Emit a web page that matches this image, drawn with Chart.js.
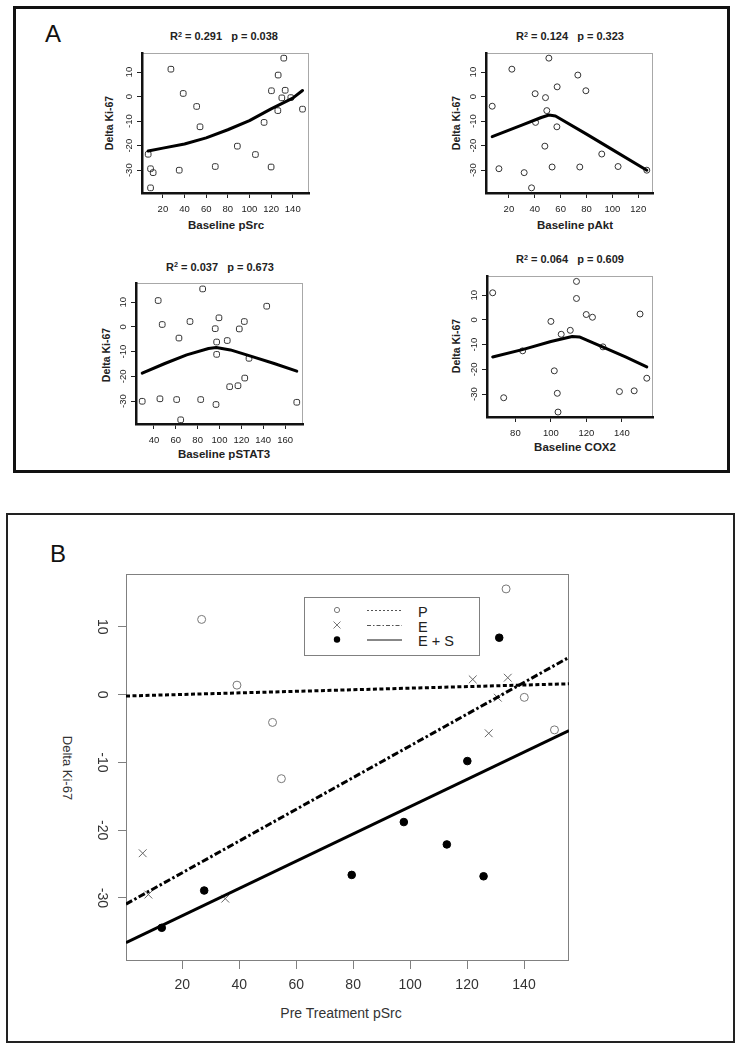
<!DOCTYPE html>
<html><head><meta charset="utf-8">
<title>Delta Ki-67 versus baseline markers</title>
<script src="https://cdn.jsdelivr.net/npm/chart.js@4.4.1/dist/chart.umd.min.js"></script>
<style>
html,body{margin:0;padding:0;background:#fff;}
body{position:relative;width:740px;height:1050px;overflow:hidden;font-family:"Liberation Sans",Arial,sans-serif;color:#222;}
canvas{position:absolute;}
.frame{position:absolute;box-sizing:border-box;}
.txt{position:absolute;white-space:nowrap;line-height:1;transform:translate(-50%,-50%);}
.panel{font-size:24px;color:#111;}
.ttl{font-size:11px;font-weight:bold;}
.ttl sup{font-size:0.65em;position:relative;top:-0.45em;vertical-align:baseline;line-height:0;}
.xl{font-size:11.5px;font-weight:bold;}
.yl{font-size:10.5px;font-weight:bold;transform:translate(-50%,-50%) rotate(-90deg);}
.bx{font-size:14px;color:#333;}
.by{font-size:13px;color:#333;transform:translate(-50%,-50%) rotate(90deg);}
.lg{position:absolute;white-space:nowrap;line-height:1;transform:translate(0,-50%);font-size:14.5px;color:#222;}
</style></head><body>
<div class="frame" style="left:13px;top:6px;width:717px;height:467px;border:3px solid #111;"></div>
<div class="frame" style="left:6px;top:513px;width:729px;height:530px;border:2px solid #222;"></div>

<div class="txt panel" style="left:53px;top:33.5px;">A</div>
<div class="txt panel" style="left:58px;top:554px;">B</div>

<div class="txt ttl" style="left:224px;top:36px;">R<sup>2</sup> = 0.291&nbsp;&nbsp;&nbsp;p = 0.038</div>
<div class="txt ttl" style="left:570px;top:36px;">R<sup>2</sup> = 0.124&nbsp;&nbsp;&nbsp;p = 0.323</div>
<div class="txt ttl" style="left:220px;top:266.7px;">R<sup>2</sup> = 0.037&nbsp;&nbsp;&nbsp;p = 0.673</div>
<div class="txt ttl" style="left:570px;top:259px;">R<sup>2</sup> = 0.064&nbsp;&nbsp;&nbsp;p = 0.609</div>

<div class="txt xl" style="left:226px;top:225.7px;">Baseline pSrc</div>
<div class="txt xl" style="left:575px;top:225.7px;">Baseline pAkt</div>
<div class="txt xl" style="left:224px;top:455px;">Baseline pSTAT3</div>
<div class="txt xl" style="left:575px;top:447.7px;">Baseline COX2</div>

<div class="txt yl" style="left:109px;top:123px;">Delta Ki-67</div>
<div class="txt yl" style="left:456px;top:123px;">Delta Ki-67</div>
<div class="txt yl" style="left:106px;top:355px;">Delta Ki-67</div>
<div class="txt yl" style="left:456px;top:346px;">Delta Ki-67</div>

<div class="txt bx" style="left:341px;top:1013px;">Pre Treatment pSrc</div>
<div class="txt by" style="left:66.7px;top:768px;">Delta Ki-67</div>

<div class="lg" style="left:418px;top:611.5px;">P</div>
<div class="lg" style="left:418px;top:626.5px;">E</div>
<div class="lg" style="left:418px;top:641px;">E + S</div>

<script>
Chart.defaults.font.family = '"Liberation Sans", Arial, sans-serif';

// ---------------- DATA ----------------
const yRangeDelta = [-39.3, 17.8];

// Panel A1: Baseline pSrc
const srcX = [6.4, 27.4, 38.8, 51.2, 54.3, 8.6, 11, 8.6, 35.1, 68.4, 88.8, 105.5, 113.5, 120, 120.3, 126.5, 131.7, 133, 126.2, 129.9, 138.2, 149];
const srcY = [-23.5, 11.2, 1.3, -4.0, -12.3, -29.4, -31, -37.2, -30, -28.5, -20.2, -23.6, -10.5, -28.7, 2.4, 8.8, 15.7, 2.6, -5.7, -0.5, -0.4, -5.1];
const srcFitX = [6.4, 20, 40, 60, 80, 100, 120, 140, 149];
const srcFitY = [-22.2, -21, -19.3, -16.8, -13.5, -9.8, -5, -0.6, 2.5];

// Panel A2: Baseline pAkt
const aktX = [7.1, 22.3, 12.3, 31.8, 37.5, 40.3, 40.6, 48.3, 47.8, 49.3, 50.9, 53.4, 57.1, 57.3, 73.3, 74.8, 79.5, 91.8, 104.4, 126.6];
const aktY = [-3.9, 11.2, -29.4, -31, -37.2, 1.2, -10.5, -0.4, -20.2, -5.7, 15.7, -28.7, -12.3, 4.0, 8.8, -28.7, 2.4, -23.4, -28.5, -30];
const aktFitX = [7.1, 30, 45, 51, 56, 80, 100, 126.6];
const aktFitY = [-16.3, -11.6, -8.5, -7.5, -7.9, -15.3, -21.6, -30];

// Panel A3: Baseline pSTAT3
const statX = [29.3, 43.9, 47.6, 45.5, 62.9, 60.8, 64.5, 73.0, 82.8, 84.6, 96.1, 97.4, 96.8, 97.4, 99.5, 107.1, 109.3, 116.9, 118.1, 122.7, 123.1, 127.0, 143.2, 170.7];
const statY = [-30.1, 10.7, 1.0, -29.1, -4.5, -29.4, -37.6, 2.2, -29.4, 15.4, -0.7, -6.1, -31.4, -11.1, 3.7, -5.5, -24.2, -23.8, -0.8, 2.2, -20.7, -12.7, 8.4, -30.5];
const statFitX = [29.3, 50, 70, 90, 97, 110, 130, 150, 170.7];
const statFitY = [-18.7, -14.8, -11.3, -8.7, -8.3, -9.3, -12, -14.8, -17.9];

// Panel A4: Baseline COX2
const coxX = [67.2, 73.4, 84.1, 100.0, 101.9, 103.6, 104.0, 105.8, 110.9, 114.4, 114.4, 119.9, 123.4, 129.3, 138.6, 146.9, 150.2, 154.0];
const coxY = [11.0, -31.5, -12.5, -0.6, -20.6, -29.7, -37.3, -5.8, -4.2, 15.6, 8.7, 2.2, 1.1, -10.9, -29.0, -28.7, 2.4, -23.6];
const coxFitX = [67.2, 85, 100, 112, 116, 130, 142, 154];
const coxFitY = [-15, -11.8, -8.7, -6.7, -6.9, -11.2, -15, -19];

// Panel B: Pre Treatment pSrc by group
const groupNames = ['P', 'E', 'E + S'];
const pX = [26.8, 39.2, 51.7, 54.8, 133.7, 140.1, 150.7];
const pY = [11.1, 1.4, -4.1, -12.4, 15.6, -0.4, -5.2];
const eX = [6.1, 8.1, 35.1, 122, 134.3, 130.8, 127.6];
const eY = [-23.4, -29.5, -30.1, 2.25, 2.5, -0.45, -5.7];
const esX = [12.8, 27.7, 79.5, 97.8, 112.9, 125.8, 120.1, 131.3];
const esY = [-34.4, -28.9, -26.6, -18.8, -22.1, -26.8, -9.8, 8.4];
const fitBX = [0.24, 155.8];
const pFitY = [-0.2, 1.6];
const eFitY = [-30.9, 5.5];
const esFitY = [-36.6, -5.3];

// ---------------- HELPERS ----------------
function pts(xs, ys) { return xs.map((x, i) => ({ x: x, y: ys[i] })); }

function addCanvas(L, T, W, H) {
  const c = document.createElement('canvas');
  c.width = W; c.height = H;
  c.style.left = L + 'px'; c.style.top = T + 'px';
  c.style.width = W + 'px'; c.style.height = H + 'px';
  document.body.appendChild(c);
  return c;
}

function framePlugin(color, width) {
  return {
    id: 'frame',
    beforeDraw(chart) {
      const a = chart.chartArea, ctx = chart.ctx;
      ctx.save();
      ctx.strokeStyle = color; ctx.lineWidth = width;
      ctx.strokeRect(Math.round(a.left) + 0.5, Math.round(a.top) + 0.5,
                     Math.round(a.right - a.left) - 1, Math.round(a.bottom - a.top) - 1);
      ctx.restore();
    }
  };
}

function baseOptions(p) {
  return {
    responsive: false, animation: false, devicePixelRatio: 1, events: [],
    layout: { autoPadding: false, padding: { left: 0, top: p.area.y0 - p.T, right: p.L + p.W - p.area.x1, bottom: 0 } },
    plugins: { legend: { display: false }, tooltip: { enabled: false }, title: { display: false } }
  };
}

function smallPanel(p) {
  const c = addCanvas(p.L, p.T, p.W, p.H);
  const opts = baseOptions(p);
  const tickFont = { size: 9.5 };
  const grid = { display: true, drawOnChartArea: false, drawTicks: true, tickLength: 5, color: '#222', lineWidth: 1 };
  const border = { display: true, color: '#111', width: 2.5 };
  opts.scales = {
    x: {
      type: 'linear', position: 'bottom', min: p.xMin, max: p.xMax,
      ticks: { stepSize: 20, includeBounds: false, autoSkip: false, minRotation: 0, maxRotation: 0, padding: 5.5, color: '#222', font: tickFont },
      grid: grid, border: border,
      afterFit(s) { s.height = p.T + p.H - p.area.y1; }
    },
    y: {
      type: 'linear', position: 'left', min: yRangeDelta[0], max: yRangeDelta[1],
      ticks: { stepSize: 10, includeBounds: false, autoSkip: false, minRotation: 90, maxRotation: 90, crossAlign: 'center', padding: 1, color: '#222', font: tickFont },
      grid: grid, border: border,
      afterFit(s) { s.width = p.area.x0 - p.L; }
    }
  };
  return new Chart(c, {
    type: 'scatter',
    data: { datasets: [
      { label: 'fit', data: pts(p.fitX, p.fitY), showLine: true, pointRadius: 0, borderColor: '#000', borderWidth: 3,
        borderCapStyle: 'round', borderJoinStyle: 'round', tension: 0, fill: false },
      { label: 'obs', data: pts(p.x, p.y), pointStyle: p.marker, pointRadius: p.r, borderColor: '#333',
        backgroundColor: 'rgba(255,255,255,0)', borderWidth: 1 }
    ] },
    options: opts,
    plugins: [framePlugin('#a8a8a8', 1)]
  });
}

smallPanel({ L: 95, T: 45, W: 225, H: 175, area: { x0: 142, y0: 53, x1: 309, y1: 193 },
  xMin: 0.7, xMax: 155, x: srcX, y: srcY, fitX: srcFitX, fitY: srcFitY, marker: 'rectRounded', r: 3.3 });
smallPanel({ L: 440, T: 45, W: 225, H: 175, area: { x0: 486, y0: 53, x1: 653, y1: 193 },
  xMin: 2.3, xMax: 131.4, x: aktX, y: aktY, fitX: aktFitX, fitY: aktFitY, marker: 'circle', r: 3 });
smallPanel({ L: 90, T: 275, W: 225, H: 175, area: { x0: 136, y0: 283, x1: 303, y1: 424 },
  xMin: 23.6, xMax: 176.4, x: statX, y: statY, fitX: statFitX, fitY: statFitY, marker: 'rectRounded', r: 3.3 });
smallPanel({ L: 440, T: 268, W: 225, H: 175, area: { x0: 487, y0: 276, x1: 653, y1: 417 },
  xMin: 64, xMax: 157.5, x: coxX, y: coxY, fitX: coxFitX, fitY: coxFitY, marker: 'circle', r: 3 });

// ---------------- PANEL B ----------------
const PB = { L: 60, T: 550, W: 520, H: 450, area: { x0: 126, y0: 574, x1: 569, y1: 961 } };
const dashP = [4, 2.5];
const dashE = [7, 2.5, 2.5, 2.5];

const legendB = {
  id: 'legendB',
  afterDraw(chart) {
    const ctx = chart.ctx, ox = PB.L, oy = PB.T;
    ctx.save();
    ctx.strokeStyle = '#808080'; ctx.lineWidth = 1;
    ctx.strokeRect(304.5 - ox, 597.5 - oy, 175, 58);
    const rows = [610, 625, 639.5];
    const sx = 337 - ox;
    // P: open circle
    ctx.strokeStyle = '#777'; ctx.lineWidth = 1;
    ctx.beginPath(); ctx.arc(sx, rows[0] - oy, 2.6, 0, Math.PI * 2); ctx.stroke();
    // E: cross
    ctx.beginPath();
    ctx.moveTo(sx - 3.5, rows[1] - oy - 3.5); ctx.lineTo(sx + 3.5, rows[1] - oy + 3.5);
    ctx.moveTo(sx + 3.5, rows[1] - oy - 3.5); ctx.lineTo(sx - 3.5, rows[1] - oy + 3.5);
    ctx.stroke();
    // E + S: filled dot
    ctx.fillStyle = '#000';
    ctx.beginPath(); ctx.arc(sx, rows[2] - oy, 3.2, 0, Math.PI * 2); ctx.fill();
    // line samples
    const lx0 = 367 - ox, lx1 = 402 - ox;
    const styles = [{ d: [2, 2], c: '#555' }, { d: [4, 2, 1.5, 2], c: '#555' }, { d: [], c: '#111' }];
    styles.forEach((s, i) => {
      ctx.setLineDash(s.d); ctx.strokeStyle = s.c; ctx.lineWidth = 1;
      ctx.beginPath(); ctx.moveTo(lx0, rows[i] - oy + 0.5); ctx.lineTo(lx1, rows[i] - oy + 0.5); ctx.stroke();
    });
    ctx.restore();
  }
};

(function () {
  const c = addCanvas(PB.L, PB.T, PB.W, PB.H);
  const opts = baseOptions(PB);
  const tickFont = { size: 14 };
  const grid = { display: true, drawOnChartArea: false, drawTicks: true, tickLength: 8, color: '#808080', lineWidth: 1 };
  opts.scales = {
    x: {
      type: 'linear', position: 'bottom', min: fitBX[0], max: fitBX[1],
      ticks: { stepSize: 20, includeBounds: false, autoSkip: false, minRotation: 0, maxRotation: 0, padding: 7.5, color: '#333', font: tickFont },
      grid: grid, border: { display: false },
      afterFit(s) { s.height = PB.T + PB.H - PB.area.y1; }
    },
    y: {
      type: 'linear', position: 'left', min: yRangeDelta[0], max: yRangeDelta[1],
      ticks: { stepSize: 10, includeBounds: false, autoSkip: false, minRotation: -90, maxRotation: -90, crossAlign: 'center', padding: 6, color: '#333', font: tickFont },
      grid: grid, border: { display: false },
      afterFit(s) { s.width = PB.area.x0 - PB.L; }
    }
  };
  const line = (ys, dash, name) => ({ label: name + ' fit', data: pts(fitBX, ys), showLine: true, pointRadius: 0,
    borderColor: '#000', borderWidth: 3, borderDash: dash, borderCapStyle: 'butt', tension: 0, fill: false });
  new Chart(c, {
    type: 'scatter',
    data: { datasets: [
      line(pFitY, dashP, groupNames[0]),
      line(eFitY, dashE, groupNames[1]),
      line(esFitY, [], groupNames[2]),
      { label: groupNames[0], data: pts(pX, pY), pointStyle: 'circle', pointRadius: 4, borderColor: '#777', backgroundColor: 'rgba(255,255,255,0)', borderWidth: 1 },
      { label: groupNames[1], data: pts(eX, eY), pointStyle: 'crossRot', pointRadius: 5.5, borderColor: '#666', backgroundColor: '#666', borderWidth: 1 },
      { label: groupNames[2], data: pts(esX, esY), pointStyle: 'circle', pointRadius: 3.8, borderColor: '#000', backgroundColor: '#000', borderWidth: 1 }
    ] },
    options: opts,
    plugins: [framePlugin('#808080', 1), legendB]
  });
})();
</script>
</body></html>
